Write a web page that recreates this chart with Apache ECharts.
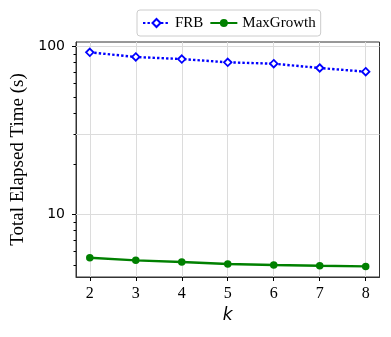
<!DOCTYPE html>
<html>
<head>
<meta charset="utf-8">
<script src="https://cdn.jsdelivr.net/npm/echarts@6/dist/echarts.min.js"></script>
<style>
	html, body { margin: 0; padding: 0; background: #fff; }
	#chart { width: 391px; height: 337px; }
</style>
</head>
<body>
<div id="chart"></div>
<script>
const kValues = [2, 3, 4, 5, 6, 7, 8];
const frbTimes = [92.1, 86.4, 84.0, 80.3, 78.8, 74.3, 70.6];
const maxGrowthTimes = [5.52, 5.32, 5.20, 5.06, 4.99, 4.94, 4.90];
// y ticks on the log axis
const yMajorTicks = [10, 100];
const yMinorTicks = [5, 6, 7, 8, 9, 20, 30, 40, 50, 60, 70, 80, 90];
const yGridLines = [10, 30, 100];

const serif = 'Liberation Serif';
const gridColor = '#dcdcdc';
const spineColor = '#333';

const chart = echarts.init( document.getElementById( 'chart' ), null, { renderer: 'canvas' } );

const toPairs = ( ys ) => kValues.map( ( k, i ) => [ k, ys[i] ] );

const option = {
	animation: false,
	grid: {
		left: 76, right: 11.5, top: 42, bottom: 60,
		show: true, borderColor: spineColor, borderWidth: 1, backgroundColor: 'transparent'
	},
	legend: {
		left: 137, top: 10,
		padding: [ 4, 5, 4, 5 ],
		itemWidth: 27, itemHeight: 10, itemGap: 6,
		borderColor: '#cccccc', borderWidth: 1, borderRadius: 3,
		backgroundColor: '#fff',
		textStyle: { fontFamily: serif, fontSize: 15, color: '#000', lineHeight: 18 },
		data: [ 'FRB', 'MaxGrowth' ]
	},
	xAxis: {
		type: 'value',
		min: 1.7, max: 8.3,
		name: 'k',
		nameLocation: 'middle',
		nameGap: 29,
		nameTextStyle: { fontFamily: 'DejaVu Sans', fontStyle: 'italic', fontSize: 17, color: '#000' },
		axisLine: { show: true, lineStyle: { color: spineColor, width: 1 } },
		axisTick: { show: true, length: 4, customValues: kValues, lineStyle: { color: '#000' } },
		axisLabel: { customValues: kValues, fontFamily: serif, fontSize: 16, color: '#000', margin: 9 },
		splitLine: { show: true, lineStyle: { color: gridColor, width: 1 } }
	},
	yAxis: [
		{
			type: 'log', logBase: 10,
			min: 4.236, max: 106.1,
			name: 'Total Elapsed Time (s)',
			nameLocation: 'middle',
			nameGap: 47,
			nameTextStyle: { fontFamily: serif, fontSize: 19, color: '#000' },
			axisLine: { show: true, lineStyle: { color: spineColor, width: 1 } },
			axisTick: { show: true, length: 4, customValues: yMajorTicks, lineStyle: { color: '#000' } },
			axisLabel: { customValues: yMajorTicks, fontFamily: 'DejaVu Sans', fontSize: 14, color: '#000', margin: 11 },
			splitLine: { show: false }
		},
		{
			// minor ticks only
			type: 'log', logBase: 10,
			min: 4.236, max: 106.1,
			position: 'left',
			axisLine: { show: false },
			axisTick: { show: true, length: 2.5, customValues: yMinorTicks, lineStyle: { color: '#000' } },
			axisLabel: { show: false },
			splitLine: { show: false }
		}
	],
	series: [
		{
			name: 'FRB',
			type: 'line',
			data: toPairs( frbTimes ),
			symbol: 'diamond',
			symbolSize: [ 7.5, 7.5 ],
			lineStyle: { color: '#0000ff', width: 2.4, type: [ 2.4, 2.1 ] },
			itemStyle: { color: '#ffffff', borderColor: '#0000ff', borderWidth: 1.8 },
			markLine: {
				silent: true,
				symbol: 'none',
				label: { show: false },
				lineStyle: { color: gridColor, width: 1, type: 'solid' },
				data: yGridLines.map( v => ( { yAxis: v } ) )
			},
			z: 3
		},
		{
			name: 'MaxGrowth',
			type: 'line',
			data: toPairs( maxGrowthTimes ),
			symbol: 'circle',
			symbolSize: 7.5,
			lineStyle: { color: '#008000', width: 2.4 },
			itemStyle: { color: '#008000' },
			z: 3
		}
	]
};

chart.setOption( option );
</script>
</body>
</html>
